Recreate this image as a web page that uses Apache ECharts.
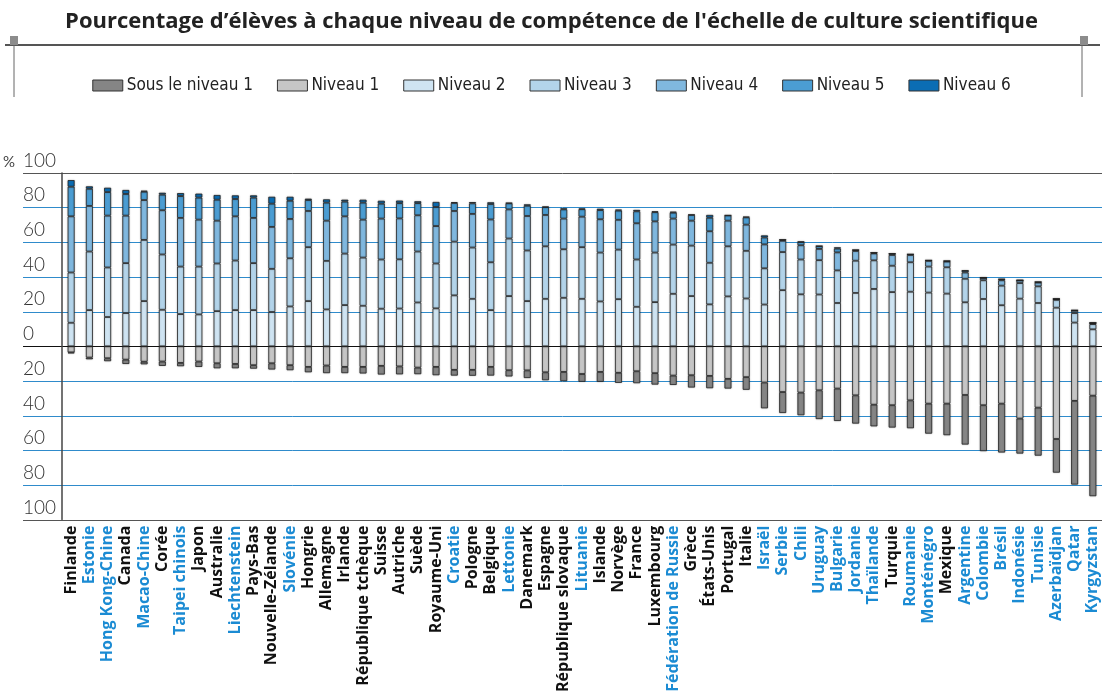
<!DOCTYPE html>
<html>
<head>
<meta charset="utf-8">
<script src="https://cdn.jsdelivr.net/npm/echarts@6/dist/echarts.min.js"></script>
<style>
  html, body { margin: 0; padding: 0; background: #fff; }
  #chart { width: 1103px; height: 695px; }
</style>
</head>
<body>
<div id="chart"></div>
<script>
// pays (ordre du graphique)
const pays = [
  "Finlande", "Estonie", "Hong Kong-Chine", "Canada", "Macao-Chine", "Corée", "Taipei chinois",
  "Japon", "Australie", "Liechtenstein", "Pays-Bas", "Nouvelle-Zélande", "Slovénie", "Hongrie",
  "Allemagne", "Irlande", "République tchèque", "Suisse", "Autriche", "Suède", "Royaume-Uni",
  "Croatie", "Pologne", "Belgique", "Lettonie", "Danemark", "Espagne", "République slovaque",
  "Lituanie", "Islande", "Norvège", "France", "Luxembourg", "Fédération de Russie", "Grèce",
  "États-Unis", "Portugal", "Italie", "Israël", "Serbie", "Chili", "Uruguay", "Bulgarie",
  "Jordanie", "Thaïlande", "Turquie", "Roumanie", "Monténégro", "Mexique", "Argentine",
  "Colombie", "Brésil", "Indonésie", "Tunisie", "Azerbaïdjan", "Qatar", "Kyrgyzstan"
];

// pays partenaires (étiquettes en bleu)
const partenaires = [
  "Estonie", "Hong Kong-Chine", "Macao-Chine", "Taipei chinois", "Liechtenstein", "Slovénie",
  "Croatie", "Lettonie", "Lituanie", "Fédération de Russie", "Israël", "Serbie", "Chili",
  "Uruguay", "Bulgarie", "Jordanie", "Thaïlande", "Roumanie", "Monténégro", "Argentine",
  "Colombie", "Brésil", "Indonésie", "Tunisie", "Azerbaïdjan", "Qatar", "Kyrgyzstan"
];

// pourcentages par niveau (sous 0 : sous le niveau 1 et niveau 1)
const sousNiveau1 = [
  0.6, 1.0, 1.7, 2.5, 1.5, 2.5, 1.9, 3.1, 2.9, 2.5, 2.0, 3.6, 2.9, 3.1, 4.4, 3.6, 3.8, 5.0, 4.6,
  3.8, 4.8, 3.3, 3.4, 5.0, 3.6, 4.4, 4.6, 5.3, 4.5, 5.7, 5.8, 6.9, 6.6, 5.4, 7.1, 7.1, 5.6, 7.3,
  14.9, 12.1, 13.1, 16.6, 18.7, 16.3, 12.5, 12.9, 16.1, 17.3, 18.2, 28.6, 26.5, 28.2, 20.2, 27.7,
  19.4, 48.3, 58.0
];
const niveau1 = [
  3.5, 6.5, 6.9, 7.7, 8.9, 8.8, 9.6, 8.8, 9.8, 10.2, 10.9, 9.8, 10.9, 11.9, 11.1, 11.9, 11.9, 11.3,
  11.6, 12.3, 11.9, 13.6, 13.6, 11.9, 13.8, 13.9, 15.0, 14.8, 16.0, 14.8, 15.3, 14.4, 15.5, 16.9,
  16.7, 17.1, 18.8, 17.8, 20.9, 26.4, 26.7, 25.4, 24.4, 28.3, 33.7, 34.0, 31.2, 33.1, 33.1, 28.1,
  34.0, 33.1, 41.7, 35.4, 53.5, 31.5, 28.5
];
const niveau2 = [
  13.6, 20.9, 16.9, 19.2, 26.1, 21.1, 18.6, 18.4, 20.3, 20.9, 20.9, 19.8, 23.0, 26.1, 21.3, 23.8,
  23.4, 21.7, 21.8, 25.3, 21.9, 29.4, 27.4, 20.9, 29.0, 26.1, 27.4, 28.0, 27.4, 25.9, 27.2, 22.8,
  25.5, 30.3, 29.0, 24.2, 28.8, 27.6, 24.1, 32.4, 30.0, 29.9, 25.0, 30.8, 33.1, 31.3, 31.5, 31.0,
  30.4, 25.4, 27.3, 23.7, 27.5, 25.0, 22.3, 13.7, 9.8
];
const niveau3 = [
  29.0, 33.8, 28.6, 28.8, 35.3, 31.9, 27.4, 27.6, 27.5, 28.6, 27.1, 24.9, 27.8, 31.1, 28.0, 29.7,
  27.8, 28.4, 28.4, 29.4, 25.9, 31.0, 29.6, 27.6, 33.2, 29.2, 30.3, 28.0, 29.8, 28.2, 28.6, 27.3,
  28.6, 28.4, 29.1, 24.0, 28.9, 27.5, 20.9, 22.0, 20.1, 19.8, 18.8, 18.6, 16.5, 15.2, 17.0, 15.0,
  15.2, 13.6, 10.8, 11.3, 9.0, 9.6, 4.5, 5.5, 3.0
];
const niveau4 = [
  32.4, 26.3, 29.9, 27.4, 23.0, 25.5, 28.1, 27.1, 24.7, 25.5, 26.1, 24.2, 22.7, 20.9, 23.2, 21.5,
  21.9, 23.6, 23.6, 20.9, 21.6, 17.7, 19.4, 24.7, 16.8, 19.9, 18.1, 17.7, 17.6, 19.2, 17.2, 20.9,
  18.0, 15.0, 14.4, 18.2, 14.8, 15.1, 13.8, 6.5, 8.2, 6.5, 10.4, 5.6, 4.0, 6.2, 4.2, 3.3, 3.3, 3.6,
  1.4, 3.1, 1.5, 2.2, 0.5, 1.3, 0.6
];
const niveau5 = [
  17.1, 9.9, 13.6, 12.5, 4.8, 9.0, 12.6, 12.7, 12.1, 10.0, 11.7, 13.4, 10.5, 6.3, 10.4, 8.5, 9.8,
  8.6, 8.8, 7.0, 11.0, 4.6, 6.1, 8.9, 3.5, 5.9, 4.5, 5.3, 4.3, 5.3, 5.3, 6.9, 5.3, 3.4, 3.3, 7.8,
  3.0, 4.2, 4.0, 0.6, 1.9, 1.6, 2.2, 0.6, 0.4, 0.8, 0.4, 0.3, 0.3, 1.0, 0.1, 0.6, 0.1, 0.3, 0.0,
  0.3, 0.1
];
const niveau6 = [
  3.8, 1.4, 2.5, 2.3, 0.6, 1.1, 1.7, 2.3, 2.7, 2.1, 1.3, 4.0, 2.3, 0.8, 1.9, 1.1, 1.7, 1.7, 1.5,
  1.1, 2.9, 0.5, 0.7, 1.0, 0.3, 0.8, 0.3, 0.6, 0.4, 0.8, 0.6, 0.8, 0.5, 0.6, 0.2, 1.6, 0.1, 0.4,
  1.2, 0.0, 0.2, 0.1, 0.7, 0.0, 0.0, 0.0, 0.0, 0.0, 0.0, 0.1, 0.0, 0.1, 0.0, 0.0, 0.0, 0.0, 0.0
];

// graduations de l'axe des pourcentages
const yMin = -100;
const yMax = 100;
const yPas = 20;

const chart = echarts.init(document.getElementById("chart"), null, { renderer: "canvas" });

const bleuLigne = "#2f8bcb";
const couleursLignes = [];
for (let v = yMin; v <= yMax; v += yPas) {
  if (v === yMin || v === yMax) couleursLignes.push("#555555");
  else if (v === 0) couleursLignes.push("#111111");
  else couleursLignes.push(bleuLigne);
}

const styleBarre = (couleur) => ({
  color: couleur,
  borderColor: "#222",
  borderWidth: 0.8,
  shadowBlur: 2,
  shadowColor: "rgba(0,0,0,0.25)",
});

const serieBarre = (nom, valeurs, couleur, negatif) => ({
  name: nom,
  type: "bar",
  stack: "total",
  xAxisIndex: 1,
  yAxisIndex: 1,
  barWidth: 7,
  data: negatif ? valeurs.map((v) => -v) : valeurs,
  itemStyle: styleBarre(couleur),
  emphasis: { disabled: true },
});

const police = "'Lato', 'Open Sans', sans-serif";

const option = {
  animation: false,
  backgroundColor: "#fff",
  title: {
    text: "Pourcentage d’élèves à chaque niveau de compétence de l'échelle de culture scientifique",
    left: "center",
    top: 6,
    textStyle: {
      fontFamily: "'Open Sans', sans-serif",
      fontWeight: "bold",
      fontSize: 22,
      color: "#222",
    },
  },
  legend: {
    top: 72,
    left: "center",
    itemWidth: 30,
    itemHeight: 11,
    itemGap: 24,
    icon: "rect",
    data: ["Sous le niveau 1", "Niveau 1", "Niveau 2", "Niveau 3", "Niveau 4", "Niveau 5", "Niveau 6"],
    itemStyle: { shadowBlur: 0, borderColor: "#333", borderWidth: 1 },
    textStyle: {
      fontFamily: "'Liberation Sans Narrow', 'DejaVu Sans Condensed', sans-serif",
      fontSize: 17,
      color: "#222",
      padding: [0, 0, 0, -1],
    },
  },
  graphic: [
    { type: "line", shape: { x1: 5, y1: 45, x2: 1100, y2: 45 }, style: { stroke: "#555", lineWidth: 2 } },
    { type: "rect", shape: { x: 10, y: 36, width: 8, height: 9 }, style: { fill: "#8c8c8c" } },
    { type: "rect", shape: { x: 1080, y: 36, width: 8, height: 9 }, style: { fill: "#8c8c8c" } },
    { type: "line", shape: { x1: 14, y1: 45, x2: 14, y2: 97 }, style: { stroke: "#666", lineWidth: 1 } },
    { type: "line", shape: { x1: 1082, y1: 45, x2: 1082, y2: 97 }, style: { stroke: "#666", lineWidth: 1 } },
  ],
  grid: [
    { left: 22, right: 1, top: 173, bottom: 175 },
    { left: 62, right: 1, top: 173, bottom: 175 },
  ],
  xAxis: [
    { type: "value", gridIndex: 0, show: false },
    {
      type: "category",
      gridIndex: 1,
      data: pays,
      axisLine: { show: false, onZero: false },
      axisTick: { show: false },
      axisLabel: {
        interval: 0,
        rotate: 90,
        margin: 6,
        fontFamily: "'Open Sans', sans-serif",
        fontWeight: "bold",
        fontSize: 16,
        color: (val) => (partenaires.includes(val) ? "#1b8bd3" : "#111"),
      },
    },
  ],
  yAxis: [
    {
      type: "value",
      gridIndex: 0,
      min: yMin,
      max: yMax,
      interval: yPas,
      name: "%",
      nameLocation: "end",
      nameGap: 3,
      nameTextStyle: {
        align: "right",
        verticalAlign: "bottom",
        padding: [0, 8, 0, 0],
        fontFamily: police,
        fontSize: 15,
        color: "#444",
      },
      axisLine: { show: false },
      axisTick: { show: false },
      axisLabel: {
        align: "left",
        verticalAlign: "bottom",
        margin: 0,
        padding: [0, 0, 3, 0],
        fontFamily: police,
        fontWeight: 300,
        fontSize: 19,
        color: "#333",
        formatter: (v) => String(Math.abs(v)),
      },
      splitLine: { show: true, lineStyle: { color: couleursLignes, width: 1 } },
    },
    {
      type: "value",
      gridIndex: 1,
      min: yMin,
      max: yMax,
      interval: yPas,
      axisLine: { show: true, lineStyle: { color: "#444", width: 1.5 } },
      axisTick: { show: false },
      axisLabel: { show: false },
      splitLine: { show: false },
    },
  ],
  series: [
    serieBarre("Niveau 1", niveau1, "#c6c6c6", true),
    serieBarre("Sous le niveau 1", sousNiveau1, "#858585", true),
    serieBarre("Niveau 2", niveau2, "#cfe4f2", false),
    serieBarre("Niveau 3", niveau3, "#b3d4ea", false),
    serieBarre("Niveau 4", niveau4, "#80b8df", false),
    serieBarre("Niveau 5", niveau5, "#4b9dd3", false),
    serieBarre("Niveau 6", niveau6, "#0b6db4", false),
  ],
};

chart.setOption(option);
</script>
</body>
</html>
